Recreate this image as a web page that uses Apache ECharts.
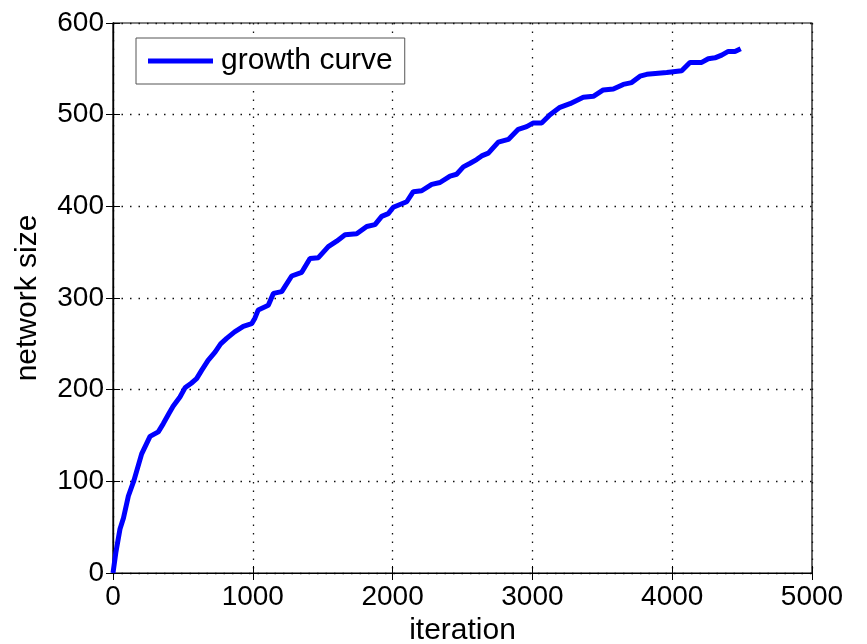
<!DOCTYPE html>
<html>
<head>
<meta charset="utf-8">
<script src="https://cdn.jsdelivr.net/npm/echarts@6/dist/echarts.min.js"></script>
<style>html,body{margin:0;padding:0;background:#fff}#c{width:867px;height:644px}</style>
</head>
<body>
<div id="c"></div>
<script>
const iterations = [0,20,50,75,110,150,205,265,324,360,400,430,479,515,560,598,634,680,730,770,813,870,932,992,1015,1039,1111,1147,1207,1278,1350,1409,1469,1540,1600,1660,1743,1815,1874,1922,1969,2005,2053,2101,2148,2208,2280,2339,2411,2458,2506,2555,2601,2637,2685,2756,2828,2899,2959,3007,3066,3126,3197,3269,3364,3436,3507,3579,3650,3710,3770,3818,3961,4068,4127,4211,4258,4306,4354,4401,4449,4490];
const networkSize = [0,22,48,60,84,101,130,149,154,163,174,182,192,202,207,212,221,232,241,250,256,263,269,272,278,287,292,305,307,324,328,343,344,356,362,369,370,378,380,389,392,399,402,405,416,417,424,426,433,435,443,447,451,455,458,470,473,484,487,491,491,500,508,512,519,520,527,528,533,535,542,544,546,548,557,557,561,562,565,569,569,572];
const xTicks = [0,1000,2000,3000,4000,5000];
const yTicks = [0,100,200,300,400,500,600];
const seriesName = 'growth curve';

const font = 'Liberation Sans, Arial, sans-serif';
const chart = echarts.init(document.getElementById('c'), null, {renderer:'canvas'});
const pts = iterations.map((x,i)=>[x, networkSize[i]]);
const grid = {left:113, right:55, top:23, bottom:71, show:true, borderColor:'#000', borderWidth:1.2,
  containLabel:false, outerBoundsMode:'none'};
const splitDots = {show:true, lineStyle:{color:'#111', width:1.3, type:[1.5,7]}};
chart.setOption({
  animation:false,
  backgroundColor:'#fff',
  grid: grid,
  legend: {
    left:136, top:38, padding:[8,12,8,12],
    borderColor:'#555', borderWidth:1, backgroundColor:'#fff',
    itemWidth:65, itemHeight:5, itemGap:0,
    textStyle:{fontFamily:font, fontSize:30, color:'#000', padding:[0,0,0,3]},
    data:[{name:seriesName, icon:'rect'}]
  },
  xAxis: [{
    type:'value', min:0, max:5000, interval:1000,
    name:'iteration', nameLocation:'middle', nameGap:41,
    nameTextStyle:{fontFamily:font, fontSize:30, color:'#000'},
    axisLine:{show:true, lineStyle:{color:'#000', width:1.2}},
    axisTick:{show:true, inside:true, length:7, lineStyle:{color:'#000'}},
    axisLabel:{fontFamily:font, fontSize:28, color:'#000', margin:10,
      formatter:v=>xTicks.includes(v)?String(v):''},
    splitLine: splitDots
  },{
    type:'value', min:0, max:5000, interval:1000, position:'top',
    axisLine:{show:true, lineStyle:{color:'#000', width:1.2}},
    axisTick:{show:true, inside:true, length:7, lineStyle:{color:'#000'}},
    axisLabel:{show:false}, splitLine:{show:false}
  }],
  yAxis: [{
    type:'value', min:0, max:600, interval:100,
    name:'network size', nameLocation:'middle', nameGap:70, nameRotate:90,
    nameTextStyle:{fontFamily:font, fontSize:30, color:'#000'},
    axisLine:{show:true, lineStyle:{color:'#000', width:1.2}},
    axisTick:{show:true, inside:true, length:7, lineStyle:{color:'#000'}},
    axisLabel:{fontFamily:font, fontSize:28, color:'#000', margin:9,
      formatter:v=>yTicks.includes(v)?String(v):''},
    splitLine: splitDots
  },{
    type:'value', min:0, max:600, interval:100, position:'right',
    axisLine:{show:true, lineStyle:{color:'#000', width:1.2}},
    axisTick:{show:true, inside:true, length:7, lineStyle:{color:'#000'}},
    axisLabel:{show:false}, splitLine:{show:false}
  }],
  series: [{
    name: seriesName, type:'line', data: pts,
    xAxisIndex:0, yAxisIndex:0,
    showSymbol:false, symbol:'none', smooth:false,
    lineStyle:{color:'#0000ff', width:5},
    itemStyle:{color:'#0000ff'}
  }]
});
</script>
</body>
</html>
